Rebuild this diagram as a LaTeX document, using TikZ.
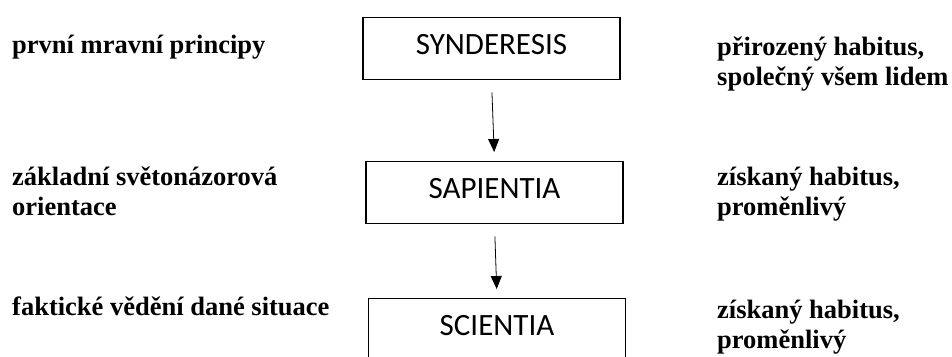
\documentclass[tikz,border=0pt]{standalone}
\usepackage{fontspec}
\setmainfont{Liberation Serif}
\newfontfamily\boxfont{Carlito}
\usetikzlibrary{arrows.meta}
\tikzset{
  sidetext/.style={font=\fontsize{26.5}{30}\selectfont\bfseries, anchor=base west, align=left, inner sep=0pt},
  stepbox/.style={draw, line width=1.4pt, anchor=north, minimum width=257pt, inner sep=0pt,
    text height=37pt, text depth=25pt, font=\boxfont\fontsize{31}{36}\selectfont},
  link/.style={-{Triangle[width=11pt,length=13pt]}, line width=0.8pt, shorten <=12pt, shorten >=9pt}
}
\begin{document}
\begin{tikzpicture}[x=1pt,y=-1pt]
\useasboundingbox (0,0) rectangle (952,356);
\clip (0,0) rectangle (952,356);
% boxes in the middle
\node[stepbox] (syn) at (491.5,17) {SYNDERESIS};
\node[stepbox] (sap) at (494.5,161) {SAPIENTIA};
\node[stepbox] (sci) at (497,298) {SCIENTIA};
\draw[link] (syn.south) -- (sap.north);
\draw[link] (sap.south) -- (sci.north);
% left column (base = last line)
\node[sidetext] (lt1) at (12,53) {první mravní principy};
\node[sidetext] (lt2) at (12,215) {základní světonázorová\\orientace};
\node[sidetext] (lt3) at (12,315) {faktické vědění dané situace};
% right column
\node[sidetext] (rt1) at (717,85) {přirozený habitus,\\společný všem lidem};
\node[sidetext] (rt2) at (717,215) {získaný habitus,\\proměnlivý};
\node[sidetext] (rt3) at (717,348) {získaný habitus,\\proměnlivý};
\end{tikzpicture}
\end{document}
